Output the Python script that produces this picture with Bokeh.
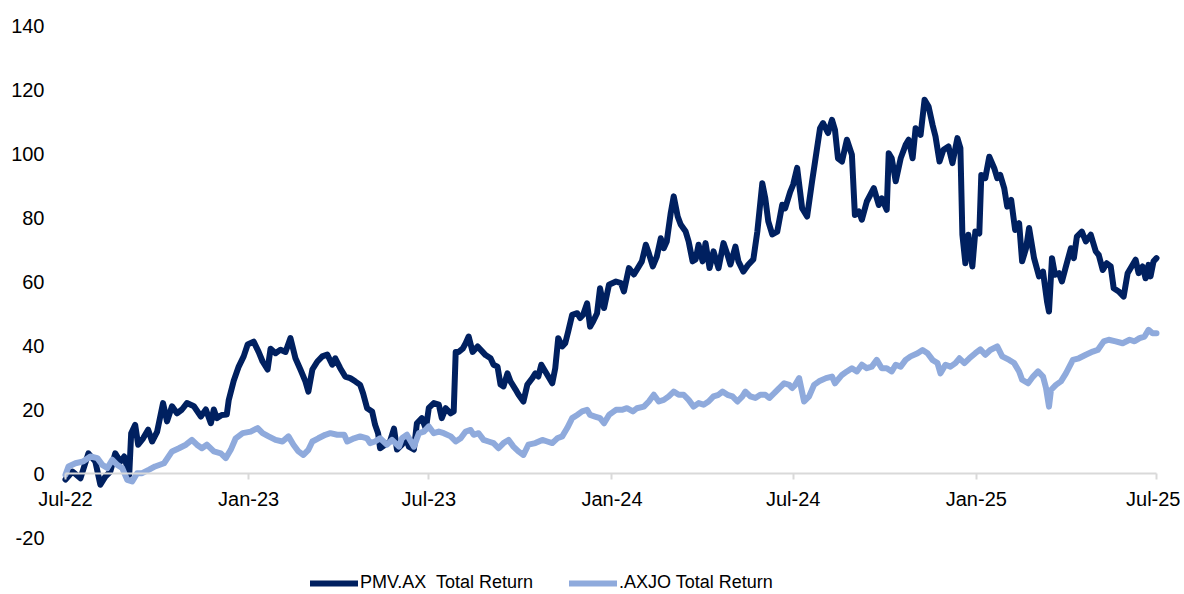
import pandas as pd
from bokeh.plotting import figure
from bokeh.models import (ColumnDataSource, Range1d, FixedTicker, MonthsTicker,
                          DatetimeTickFormatter, Legend, LegendItem)
from bokeh.embed import file_html
from bokeh.resources import INLINE

START = "2022-07-01"
END = "2025-07-01"

# PMV.AX total return (%), sampled days since 2022-07-01
pmv_day = [0, 7, 15, 23, 30, 35, 40, 45, 50, 55, 59, 64, 66, 70, 73, 78, 83, 87, 92, 98,
           102, 107, 112, 117, 122, 129, 136, 141, 146, 149, 152, 157, 162, 164, 169, 174, 179, 183, 189, 194,
           198, 203, 206, 211, 216, 221, 226, 231, 236, 241, 244, 248, 253, 258, 263, 268, 271, 276, 281, 286,
           291, 296, 299, 303, 308, 311, 314, 316, 321, 326, 330, 333, 338, 342, 345, 350, 353, 358, 362, 365,
           370, 375, 378, 382, 387, 390, 392, 395, 399, 402, 405, 409, 414, 419, 422, 427, 430, 434, 437, 440,
           444, 447, 452, 455, 460, 464, 469, 472, 475, 478, 482, 485, 489, 492, 495, 499, 502, 505, 509, 514,
           517, 520, 524, 527, 530, 534, 537, 541, 546, 553, 558, 561, 566, 571, 574, 579, 583, 586, 590, 594,
           598, 601, 604, 608, 611, 615, 618, 623, 626, 630, 633, 636, 640, 643, 647, 651, 656, 661, 665, 668,
           673, 676, 681, 686, 691, 695, 700, 703, 706, 710, 715, 720, 723, 728, 731, 735, 740, 745, 750, 753,
           758, 761, 766, 770, 773, 776, 780, 785, 790, 793, 797, 800, 805, 812, 817, 820, 825, 827, 830, 834,
           839, 844, 847, 851, 854, 859, 863, 867, 871, 874, 878, 882, 887, 891, 896, 899, 901, 904, 907, 911,
           914, 918, 920, 924, 928, 933, 936, 939, 943, 946, 950, 954, 958, 961, 965, 968, 973, 978, 982, 986,
           988, 991, 994, 998, 1001, 1005, 1010, 1013, 1016, 1021, 1025, 1030, 1035, 1038, 1042, 1046, 1050, 1053, 1058, 1063,
           1067, 1071, 1075, 1078, 1082, 1085, 1088, 1090, 1093, 1096]
pmv_val = [-1.9, 0.6, -1.5, 6.3, 3.7, -3.5, -1.0, 0.6, 6.3, 3.7, 5.3, -0.4, 12.6, 15.2, 9.0, 11.0, 13.7, 10.0, 13.0, 22.0,
           16.3, 21.0, 18.8, 20.0, 22.0, 21.0, 17.8, 20.0, 15.7, 20.0, 17.3, 18.3, 18.4, 23.0, 29.0, 33.4, 36.6, 40.3, 41.2, 38.0,
           35.0, 32.5, 39.0, 37.6, 38.7, 38.0, 42.3, 36.0, 32.5, 28.8, 25.6, 32.5, 35.0, 36.6, 37.2, 34.0, 36.0, 32.9, 30.3, 29.8,
           28.8, 27.7, 25.0, 20.4, 19.4, 15.2, 12.6, 7.9, 9.0, 10.0, 14.0, 7.5, 9.0, 11.0, 8.4, 7.5, 15.7, 17.3, 14.0, 20.5,
           22.0, 21.5, 17.3, 20.4, 18.8, 19.4, 38.0, 38.0, 39.0, 40.7, 42.8, 38.0, 39.7, 38.0, 37.0, 36.0, 34.0, 33.4, 27.8, 27.2,
           31.3, 28.8, 26.3, 24.7, 22.5, 27.8, 29.8, 31.3, 30.3, 34.0, 31.9, 30.3, 28.2, 32.9, 42.3, 39.7, 40.7, 44.4, 49.6, 50.1,
           48.6, 49.6, 53.2, 45.9, 47.5, 50.1, 57.9, 51.7, 59.0, 60.0, 59.5, 56.9, 64.2, 62.2, 63.7, 66.3, 71.5, 68.8, 64.7, 67.8,
           73.5, 70.4, 72.5, 81.4, 86.6, 80.3, 77.8, 75.6, 72.5, 66.3, 66.9, 71.5, 66.3, 72.0, 64.2, 69.4, 64.2, 72.0, 68.4, 65.3,
           70.9, 66.3, 63.1, 65.3, 66.9, 75.6, 90.7, 86.0, 78.8, 74.7, 75.6, 84.0, 82.9, 88.0, 90.3, 95.5, 82.9, 80.3, 91.3, 97.5,
           107.9, 109.5, 106.4, 110.5, 107.4, 98.5, 97.5, 104.3, 99.6, 80.8, 81.9, 79.3, 85.0, 89.2, 83.9, 86.0, 82.4, 100.1, 98.5, 91.3,
           98.5, 102.7, 104.3, 98.5, 107.9, 105.8, 116.8, 114.7, 109.0, 105.3, 97.5, 101.2, 102.2, 97.0, 104.8, 101.7, 74.6, 65.7, 74.6, 64.7,
           75.6, 75.0, 93.3, 92.3, 99.0, 95.4, 92.3, 93.3, 89.2, 83.4, 85.5, 76.1, 78.2, 66.3, 70.4, 76.7, 67.3, 61.6, 63.1, 53.8,
           50.6, 67.3, 62.1, 62.6, 60.0, 64.7, 70.4, 67.3, 74.0, 75.6, 72.5, 74.6, 69.4, 68.3, 63.6, 65.7, 64.7, 57.9, 56.9, 55.3,
           62.6, 64.7, 66.8, 62.6, 64.7, 61.0, 65.2, 61.6, 66.3, 67.3]

# .AXJO total return (%), sampled days since 2022-07-01
axjo_day = [0, 3, 10, 18, 25, 32, 37, 42, 47, 52, 57, 62, 67, 72, 77, 84, 90, 99, 107, 114,
            121, 127, 132, 137, 142, 149, 156, 161, 166, 171, 178, 186, 193, 198, 204, 211, 218, 224, 229, 234,
            239, 244, 248, 254, 261, 266, 273, 280, 283, 290, 296, 303, 306, 311, 316, 323, 328, 335, 338, 343,
            350, 355, 360, 365, 370, 375, 380, 387, 392, 397, 402, 407, 410, 415, 420, 425, 430, 435, 440, 445,
            450, 455, 460, 465, 472, 479, 484, 489, 494, 499, 504, 509, 514, 519, 524, 527, 532, 537, 541, 546,
            553, 559, 564, 570, 574, 581, 586, 591, 596, 601, 606, 611, 616, 621, 626, 631, 636, 641, 646, 651,
            656, 660, 665, 670, 675, 680, 683, 688, 693, 698, 703, 707, 712, 717, 722, 727, 730, 733, 737, 742,
            747, 752, 757, 764, 770, 773, 780, 785, 790, 795, 800, 805, 810, 815, 820, 825, 830, 834, 839, 844,
            849, 856, 861, 866, 871, 876, 879, 884, 889, 894, 898, 903, 908, 914, 919, 924, 929, 936, 941, 948,
            953, 958, 961, 967, 972, 977, 982, 985, 988, 990, 995, 1000, 1005, 1012, 1018, 1025, 1032, 1037, 1043, 1048,
            1055, 1062, 1069, 1074, 1079, 1084, 1088, 1092, 1096]
axjo_val = [-0.4, 2.2, 3.2, 3.8, 5.3, 4.8, 2.7, 1.7, 4.3, 2.7, 1.7, -2.0, -2.5, 0.1, 0.1, 1.2, 2.2, 3.2, 6.9, 7.9,
            9.0, 10.5, 9.0, 7.9, 9.0, 6.9, 6.3, 4.8, 7.4, 11.0, 12.6, 13.1, 14.2, 12.6, 11.6, 10.5, 10.0, 11.6, 9.0, 6.9,
            5.8, 7.4, 10.0, 11.0, 12.1, 12.6, 12.1, 12.1, 10.0, 11.0, 11.6, 11.0, 9.5, 10.0, 11.0, 9.0, 10.5, 8.4, 11.0, 12.1,
            8.4, 12.6, 13.1, 14.7, 12.6, 13.1, 12.6, 11.6, 10.0, 11.0, 13.1, 13.6, 12.1, 12.6, 10.5, 10.0, 9.5, 7.9, 9.5, 10.5,
            8.4, 6.9, 5.8, 9.0, 9.5, 10.5, 10.0, 9.5, 11.0, 11.6, 14.2, 17.3, 18.3, 19.4, 19.9, 18.3, 17.8, 17.3, 15.7, 18.3,
            19.9, 19.9, 20.4, 19.4, 20.4, 20.9, 22.5, 24.6, 22.5, 23.0, 24.1, 25.6, 24.6, 24.6, 23.0, 20.9, 22.0, 21.5, 22.5, 24.1,
            24.6, 25.6, 24.6, 24.1, 22.5, 24.1, 25.6, 24.1, 23.6, 24.6, 24.6, 23.6, 25.1, 26.7, 28.2, 27.7, 26.7, 27.7, 29.8, 22.5,
            24.1, 27.7, 28.8, 29.8, 30.3, 28.2, 30.8, 31.9, 32.9, 31.9, 34.0, 32.9, 33.4, 35.5, 32.9, 32.9, 31.9, 34.0, 33.4, 35.5,
            36.6, 37.6, 38.6, 37.6, 35.5, 34.5, 31.3, 34.0, 33.4, 34.5, 36.0, 34.5, 36.0, 37.6, 38.8, 37.1, 38.6, 39.7, 36.6, 35.5,
            34.5, 31.9, 29.3, 28.2, 30.3, 31.9, 30.3, 26.7, 20.9, 26.1, 27.7, 28.8, 31.3, 35.5, 36.0, 37.1, 38.1, 38.6, 41.3, 41.8,
            41.3, 40.7, 41.8, 41.3, 42.3, 42.8, 44.9, 43.8, 43.8]

y_ticks = [-20, 0, 20, 40, 60, 80, 100, 120, 140]
y_tick_labels = ["-20", "0", "20", "40", "60", "80", "100", "120", "140"]
x_tick_months = [0, 6]  # January and July
series_labels = ["PMV.AX  Total Return", ".AXJO Total Return"]
colors = ["#002060", "#8FAADC"]


def to_dates(days):
    return pd.Timestamp(START) + pd.to_timedelta(days, unit="D")


def ms(ts):
    return ts.timestamp() * 1000.0


src_pmv = ColumnDataSource(data=dict(date=to_dates(pmv_day), value=pmv_val))
src_axjo = ColumnDataSource(data=dict(date=to_dates(axjo_day), value=axjo_val))

FONT = "Liberation Sans"
W, H = 1180, 593
# The plotting frame fills the whole figure (axes are pinned inside it), so the
# ranges are padded to put the data area at x 65..1156 px and y 25 px (=140).
t0, t1 = pd.Timestamp(START), pd.Timestamp(END)
px_per_day = (1156 - 65) / (t1 - t0).days
x_lo = t0 - pd.Timedelta(days=65 / px_per_day)
x_hi = t1 + pd.Timedelta(days=(W - 1156) / px_per_day)
px_per_unit = 3.2
y_hi = 140 + 25 / px_per_unit
y_lo = 140 - (H - 25) / px_per_unit

p = figure(width=W, height=H, x_axis_type="datetime",
           output_backend="svg", toolbar_location=None,
           x_range=Range1d(ms(x_lo), ms(x_hi)), y_range=Range1d(y_lo, y_hi),
           min_border_left=0, min_border_right=0, min_border_top=0, min_border_bottom=0)
p.outline_line_color = None
p.grid.visible = False
p.background_fill_color = "white"
p.border_fill_color = "white"

xa = p.xaxis[0]
xa.fixed_location = 0
xa.bounds = (ms(t0), ms(t1))
xa.ticker = MonthsTicker(months=x_tick_months)
xa.formatter = DatetimeTickFormatter(days="%b-%y", months="%b-%y", years="%b-%y")
xa.axis_line_color = "#D9D9D9"
xa.axis_line_width = 2
xa.major_tick_line_color = "#D9D9D9"
xa.major_tick_line_width = 2
xa.major_tick_in = 0
xa.major_tick_out = 6
xa.minor_tick_line_color = None
xa.major_label_text_font = FONT
xa.major_label_text_font_size = "20px"
xa.major_label_text_color = "black"
xa.major_label_standoff = 8

ya = p.yaxis[0]
ya.fixed_location = ms(t0)
ya.ticker = FixedTicker(ticks=y_ticks)
ya.major_label_overrides = {t: lab for t, lab in zip(y_ticks, y_tick_labels)}
ya.axis_line_color = None
ya.major_tick_line_color = None
ya.minor_tick_line_color = None
ya.major_tick_in = 0
ya.major_tick_out = 0
ya.major_label_standoff = 21
ya.major_label_text_font = FONT
ya.major_label_text_font_size = "20px"
ya.major_label_text_color = "black"

r1 = p.line("date", "value", source=src_pmv, line_color=colors[0], line_width=6,
            line_join="round", line_cap="round")
r2 = p.line("date", "value", source=src_axjo, line_color=colors[1], line_width=6,
            line_join="round", line_cap="round")

legend = Legend(items=[LegendItem(label=series_labels[0], renderers=[r1]),
                       LegendItem(label=series_labels[1], renderers=[r2])],
                orientation="horizontal", location=(310, 0),
                glyph_width=48, glyph_height=20, label_standoff=2, spacing=36,
                padding=0, margin=0, border_line_color=None, background_fill_alpha=0,
                label_text_font=FONT, label_text_font_size="18px", label_text_color="black")
p.add_layout(legend)

open("out.html", "w").write(file_html(p, INLINE))
